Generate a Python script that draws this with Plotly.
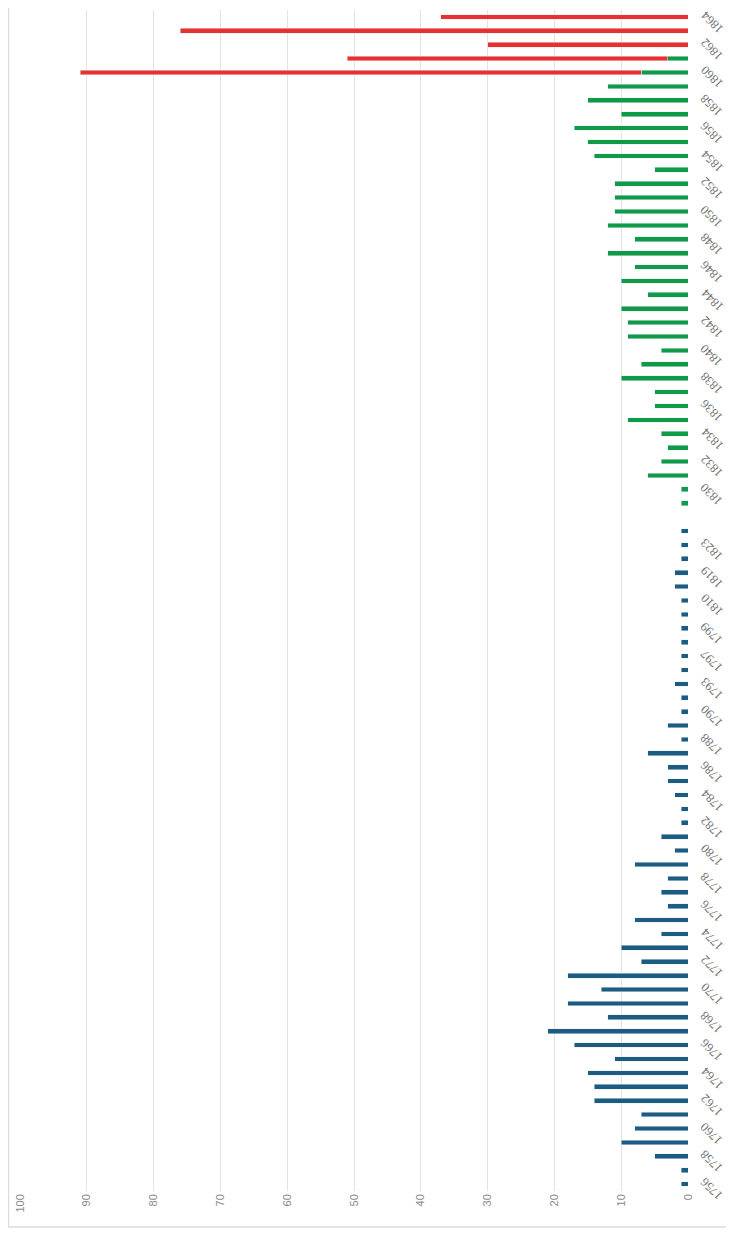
import plotly.graph_objects as go

# ---- data ----
blue_years = [str(y) for y in range(1756, 1791)] + ["1791", "1793", "1795", "1797", "1798", "1799",
                                                   "1805", "1810", "1815", "1819", "1821", "1823", "1825"]
blue_values = [1, 1, 5, 10, 8, 7, 14, 14, 15, 11, 17, 21, 12, 18, 13, 18, 7, 10,
               4, 8, 3, 4, 3, 8, 2, 4, 1, 1, 2, 3, 3, 6, 1, 3, 1,
               1, 2, 1, 1, 1, 1, 1, 1, 2, 2, 1, 1, 1]
gap_category = [" "]
green_years = [str(y) for y in range(1829, 1865)]
green_values = [1, 1, 6, 4, 3, 4, 9, 5, 5, 10, 7, 4, 9, 9, 10, 6, 10, 8, 12, 8,
                12, 11, 11, 11, 5, 14, 15, 17, 10, 15, 12, 7, 3, None, None, None]
red_years = ["1860", "1861", "1862", "1863", "1864"]
red_values = [84, 48, 30, 76, 37]

categories = blue_years + gap_category + green_years
label_ticks = [c for c in categories[::2] if c.strip()]
value_ticks = list(range(0, 101, 10))

BLUE = "#1B5C80"
GREEN = "#0F9A47"
RED = "#E8312F"

fig = go.Figure()
fig.add_bar(y=blue_years, x=blue_values, orientation="h", marker_color=BLUE, name="a")
fig.add_bar(y=green_years, x=green_values, orientation="h", marker_color=GREEN, name="b")
fig.add_bar(y=red_years, x=red_values, orientation="h", marker_color=RED, name="c")

OFF = 8  # page body margin
W, H = 726, 1231
L, R, T, B = 12, 46, 2, 48
pw, ph = W - L - R, H - T - B


def px_x(p):
    return (p - OFF - L) / pw


def px_y(p):
    return (H - B - (p - OFF)) / ph


annotations = [
    dict(x=px_x(712), xref="paper", y=categories.index(lab), yref="y", yshift=-5,
         text=lab, showarrow=False, textangle=-135,
         xanchor="center", yanchor="middle",
         font=dict(family="Liberation Serif", size=12.5, color="#707070"))
    for lab in label_ticks
]

fig.update_layout(
    width=W, height=H,
    margin=dict(l=L, r=R, t=T, b=B),
    barmode="stack",
    bargap=0.66,
    showlegend=False,
    plot_bgcolor="white",
    paper_bgcolor="white",
    xaxis=dict(
        range=[100, 0],
        tickvals=value_ticks,
        tickangle=-90,
        automargin=False,
        showgrid=True, gridcolor="#E3E3E3", gridwidth=1,
        zeroline=False,
        showline=False,
        tickfont=dict(family="Liberation Sans", size=11, color="#8A8A8A"),
        ticks="",
    ),
    yaxis=dict(
        type="category",
        categoryorder="array",
        categoryarray=categories,
        range=[-0.5, len(categories) - 0.5],
        side="right",
        automargin=False,
        showticklabels=False,
        showgrid=False,
        showline=False,
        ticks="",
    ),
    annotations=annotations,
    shapes=[dict(
        type="rect", xref="paper", yref="paper",
        x0=px_x(8.5), x1=px_x(760), y0=px_y(1227), y1=px_y(-20),
        line=dict(color="#DDDDDD", width=1.5), layer="below",
    )],
)

fig.write_html("out.html")
